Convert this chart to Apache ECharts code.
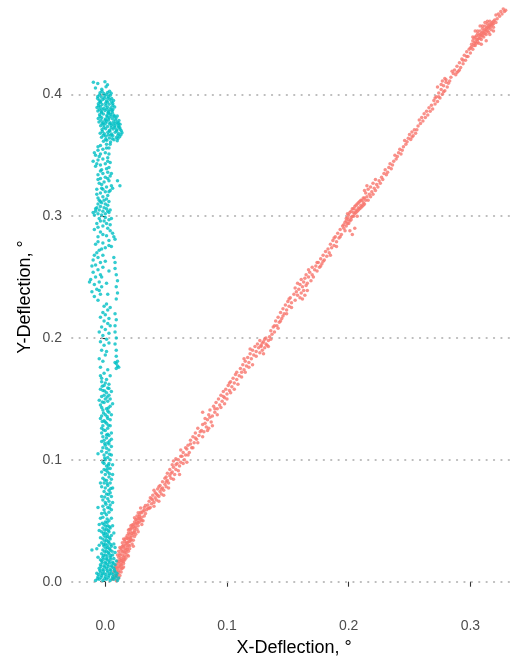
<!DOCTYPE html>
<html>
<head>
<meta charset="utf-8">
<script src="https://cdn.jsdelivr.net/npm/echarts@6/dist/echarts.min.js"></script>
<style>
  html, body { margin: 0; padding: 0; background: #ffffff; }
  #chart { width: 516px; height: 657px; }
</style>
</head>
<body>
<div id="chart"></div>
<script>
// Tick positions shown on each axis
const xTicks = [0, 0.1, 0.2, 0.3];
const yTicks = [0, 0.1, 0.2, 0.3, 0.4];

// Diagonal trace: [x deflection, y deflection] in degrees
const diagonalPoints = [
  [0.006,0.002],[0.009,0.001],[0.011,0.003],[0.008,0.005],[0.010,0.006],[0.012,0.005],[0.007,0.008],[0.009,0.009],[0.011,0.009],[0.013,0.008],
  [0.008,0.012],[0.010,0.011],[0.012,0.012],[0.014,0.011],[0.009,0.014],[0.011,0.015],[0.013,0.014],[0.015,0.015],[0.010,0.017],[0.012,0.018],[0.014,0.017],[0.016,0.018],[0.011,0.020],[0.013,0.019],[0.015,0.020],
  [0.010,0.022],[0.012,0.023],[0.014,0.022],[0.016,0.021],[0.018,0.022],[0.011,0.025],[0.013,0.026],[0.015,0.025],[0.017,0.024],[0.019,0.025],[0.012,0.028],[0.014,0.029],[0.016,0.027],[0.018,0.028],[0.020,0.027],[0.015,0.030],[0.017,0.030],[0.019,0.030],
  [0.014,0.032],[0.016,0.033],[0.018,0.032],[0.020,0.033],[0.022,0.031],[0.015,0.035],[0.017,0.036],[0.019,0.035],[0.021,0.036],[0.023,0.034],[0.018,0.038],[0.020,0.039],[0.022,0.038],[0.024,0.037],[0.019,0.040],[0.021,0.041],[0.023,0.040],[0.025,0.039],
  [0.020,0.043],[0.022,0.044],[0.024,0.042],[0.026,0.043],[0.021,0.046],[0.023,0.047],[0.025,0.045],[0.027,0.046],[0.024,0.049],[0.026,0.048],[0.028,0.049],[0.030,0.047],
  [0.025,0.051],[0.027,0.052],[0.029,0.051],[0.031,0.050],[0.026,0.054],[0.028,0.055],[0.030,0.053],[0.032,0.054],[0.029,0.057],[0.031,0.058],[0.033,0.056],[0.034,0.059],[0.032,0.061],
  [0.013,0.016],[0.017,0.026],[0.021,0.034],[0.024,0.044],[0.028,0.052],[0.019,0.021],[0.023,0.029],[0.027,0.041],[0.030,0.050],[0.015,0.012],
  [0.007,0.0035],[0.009,0.0045],[0.011,0.0075],[0.013,0.0105],[0.009,0.0115],[0.011,0.0125],[0.013,0.0135],[0.015,0.0165],[0.011,0.0165],[0.013,0.0175],[0.015,0.0185],[0.017,0.0195],[0.012,0.0215],[0.014,0.0245],
  [0.016,0.0235],[0.018,0.0265],[0.020,0.0295],[0.013,0.0275],[0.015,0.0285],[0.017,0.0315],[0.019,0.0325],[0.021,0.0345],[0.016,0.0345],[0.018,0.0355],[0.020,0.0365],[0.022,0.0395],[0.024,0.0405],[0.019,0.0425],
  [0.021,0.0435],[0.023,0.0455],[0.025,0.0475],[0.027,0.0485],[0.022,0.0465],[0.024,0.0525],[0.026,0.0505],[0.028,0.0535],[0.030,0.0565],[0.032,0.0585],[0.027,0.0565],[0.033,0.0625],[0.035,0.0605],[0.029,0.0605],
  [0.035,0.063],[0.037,0.061],[0.036,0.066],[0.038,0.064],[0.039,0.067],[0.037,0.069],[0.040,0.065],[0.041,0.069],[0.039,0.071],[0.042,0.067],[0.043,0.071],[0.041,0.073],[0.044,0.070],[0.045,0.074],[0.043,0.076],[0.046,0.072],
  [0.047,0.077],[0.045,0.079],[0.048,0.075],[0.049,0.080],[0.047,0.082],[0.050,0.078],[0.051,0.083],[0.049,0.085],[0.052,0.081],[0.053,0.087],[0.051,0.089],[0.054,0.085],[0.055,0.090],[0.053,0.092],[0.057,0.088],[0.056,0.094],
  [0.058,0.092],[0.055,0.096],[0.059,0.097],[0.061,0.095],[0.060,0.100],[0.062,0.098],[0.058,0.101],[0.063,0.103],[0.065,0.100],[0.064,0.106],[0.066,0.104],[0.062,0.108],[0.067,0.109],[0.069,0.106],[0.068,0.112],[0.071,0.110],
  [0.070,0.116],[0.073,0.114],[0.072,0.119],[0.075,0.117],[0.074,0.122],[0.077,0.120],[0.079,0.124],[0.076,0.126],[0.081,0.123],[0.083,0.127],[0.080,0.129],[0.085,0.126],[0.087,0.131],[0.084,0.133],
  [0.036,0.060],[0.038,0.068],[0.040,0.062],[0.042,0.072],[0.044,0.066],[0.046,0.076],[0.048,0.071],[0.050,0.082],[0.052,0.077],[0.054,0.089],[0.056,0.084],[0.058,0.096],[0.060,0.091],[0.062,0.103],[0.064,0.097],
  [0.066,0.110],[0.068,0.104],[0.070,0.113],[0.072,0.110],[0.074,0.118],[0.076,0.114],[0.078,0.123],[0.080,0.119],[0.082,0.130],[0.084,0.124],[0.086,0.135],[0.088,0.128],[0.090,0.142],[0.040,0.075],[0.044,0.078],
  [0.050,0.086],[0.056,0.099],[0.061,0.088],[0.067,0.098],
  [0.082,0.134],[0.085,0.137],[0.080,0.139],[0.088,0.136],[0.086,0.141],[0.090,0.139],[0.089,0.144],[0.092,0.142],[0.091,0.147],[0.094,0.145],[0.093,0.150],[0.096,0.148],[0.095,0.153],[0.098,0.151],[0.097,0.156],[0.100,0.154],
  [0.099,0.158],[0.102,0.157],[0.101,0.161],[0.104,0.160],[0.103,0.164],[0.106,0.163],[0.105,0.167],[0.108,0.166],[0.107,0.170],[0.110,0.169],[0.112,0.172],[0.111,0.175],[0.114,0.174],[0.113,0.178],[0.116,0.177],[0.115,0.181],
  [0.118,0.180],[0.117,0.184],[0.120,0.183],[0.119,0.187],[0.122,0.186],[0.121,0.190],[0.124,0.189],[0.123,0.193],[0.126,0.192],[0.125,0.195],[0.128,0.194],
  [0.092,0.137],[0.095,0.143],[0.098,0.146],[0.100,0.150],[0.103,0.155],[0.106,0.158],[0.109,0.162],[0.108,0.172],[0.112,0.168],[0.115,0.172],[0.118,0.176],[0.114,0.183],[0.121,0.178],[0.119,0.191],[0.124,0.185],
  [0.127,0.198],[0.102,0.163],[0.097,0.152],
  [0.127,0.188],[0.129,0.190],[0.130,0.187],[0.128,0.193],[0.131,0.192],[0.132,0.195],[0.130,0.197],[0.133,0.194],[0.134,0.198],[0.132,0.200],[0.135,0.201],[0.137,0.203],[0.136,0.206],[0.139,0.205],[0.138,0.209],[0.141,0.210],
  [0.140,0.214],[0.143,0.213],[0.142,0.217],[0.145,0.216],[0.144,0.221],[0.147,0.220],[0.146,0.224],[0.149,0.223],[0.148,0.227],[0.151,0.226],[0.150,0.230],[0.153,0.229],[0.152,0.233],
  [0.129,0.196],[0.131,0.199],[0.134,0.193],[0.136,0.199],[0.139,0.210],[0.142,0.208],[0.144,0.214],[0.146,0.218],[0.149,0.220],[0.151,0.232],[0.153,0.225],[0.156,0.231],[0.158,0.245],[0.160,0.233],[0.163,0.239],
  [0.165,0.243],[0.167,0.256],[0.170,0.258],[0.171,0.250],[0.174,0.262],[0.177,0.259],[0.179,0.263],[0.183,0.273],[0.185,0.268],[0.188,0.282],[0.190,0.275],[0.193,0.283],[0.195,0.292],[0.197,0.288],
  [0.155,0.236],[0.157,0.238],[0.156,0.241],[0.158,0.235],[0.159,0.240],[0.161,0.237],[0.160,0.244],[0.162,0.242],[0.163,0.246],[0.161,0.248],[0.164,0.249],[0.166,0.245],[0.165,0.252],[0.167,0.250],[0.168,0.254],[0.162,0.232],
  [0.164,0.235],[0.166,0.239],[0.169,0.247],[0.170,0.252],[0.172,0.256],[0.174,0.255],[0.173,0.259],[0.176,0.258],[0.175,0.262],[0.178,0.261],[0.177,0.265],[0.180,0.264],[0.179,0.268],[0.182,0.267],[0.181,0.271],[0.184,0.270],
  [0.186,0.274],[0.185,0.277],[0.188,0.276],[0.187,0.280],[0.190,0.279],[0.189,0.283],[0.192,0.282],[0.191,0.286],[0.194,0.285],[0.193,0.289],
  [0.196,0.290],[0.198,0.292],[0.197,0.295],[0.199,0.294],[0.200,0.297],[0.198,0.298],[0.201,0.296],[0.202,0.299],[0.200,0.301],[0.203,0.300],[0.204,0.303],[0.202,0.304],[0.205,0.302],[0.206,0.305],[0.204,0.306],[0.207,0.304],
  [0.208,0.307],[0.206,0.309],[0.209,0.306],[0.210,0.309],[0.208,0.311],[0.211,0.308],[0.212,0.311],[0.210,0.313],[0.213,0.310],[0.214,0.313],[0.201,0.288],[0.203,0.285],[0.205,0.290],[0.199,0.302],[0.207,0.300],
  [0.199,0.299],[0.201,0.303],[0.203,0.306],[0.205,0.308],[0.207,0.310],[0.209,0.312],[0.202,0.297],[0.204,0.300],[0.206,0.303],[0.208,0.305],[0.210,0.307],[0.212,0.309],[0.211,0.313],[0.213,0.315],[0.200,0.294],
  [0.198,0.296],[0.196,0.293],
  [0.212,0.315],[0.215,0.316],[0.214,0.319],[0.217,0.318],[0.213,0.321],[0.216,0.322],[0.219,0.320],[0.218,0.324],[0.221,0.323],[0.215,0.325],[0.220,0.327],[0.223,0.326],[0.222,0.330],[0.225,0.329],[0.227,0.332],[0.229,0.335],
  [0.231,0.334],[0.230,0.338],[0.233,0.340],[0.235,0.339],[0.234,0.343],[0.237,0.345],[0.239,0.347],[0.238,0.350],[0.241,0.352],[0.243,0.351],[0.242,0.355],[0.245,0.357],[0.247,0.359],[0.246,0.362],[0.249,0.364],[0.251,0.363],
  [0.250,0.367],[0.253,0.366],[0.252,0.369],[0.255,0.368],[0.254,0.371],
  [0.216,0.313],[0.218,0.316],[0.220,0.318],[0.222,0.321],[0.224,0.324],[0.226,0.327],[0.228,0.330],[0.232,0.336],[0.236,0.342],[0.240,0.349],[0.244,0.354],[0.248,0.361],[0.252,0.365],[0.256,0.371],[0.260,0.381],
  [0.264,0.386],[0.268,0.391],[0.271,0.397],[0.274,0.398],[0.276,0.408],[0.278,0.402],[0.280,0.412],[0.283,0.411],[0.285,0.419],[0.289,0.418],[0.291,0.420],[0.294,0.428],[0.297,0.431],[0.299,0.437],
  [0.257,0.374],[0.259,0.376],[0.258,0.379],[0.261,0.378],[0.263,0.381],[0.262,0.384],[0.265,0.383],[0.267,0.386],[0.266,0.389],[0.269,0.388],[0.271,0.392],[0.270,0.395],[0.273,0.394],[0.272,0.398],[0.275,0.397],[0.274,0.401],
  [0.277,0.400],[0.276,0.404],[0.279,0.403],[0.278,0.407],[0.281,0.406],[0.280,0.410],[0.282,0.409],[0.277,0.411],[0.279,0.413],[0.273,0.406],[0.284,0.414],[0.286,0.417],[0.288,0.416],[0.287,0.420],[0.290,0.419],[0.289,0.423],
  [0.292,0.422],[0.291,0.426],[0.294,0.425],[0.293,0.429],[0.296,0.428],[0.295,0.432],[0.298,0.431],[0.297,0.435],[0.300,0.434],
  [0.300,0.438],[0.302,0.437],[0.301,0.441],[0.303,0.440],[0.304,0.443],[0.302,0.444],[0.305,0.442],[0.306,0.445],[0.304,0.447],[0.307,0.446],[0.308,0.449],[0.306,0.450],[0.309,0.448],[0.310,0.451],[0.308,0.452],[0.311,0.450],
  [0.312,0.453],[0.310,0.454],[0.313,0.452],[0.314,0.455],[0.312,0.456],[0.315,0.454],[0.316,0.457],[0.314,0.458],[0.317,0.456],[0.318,0.459],[0.316,0.460],[0.319,0.458],[0.307,0.442],[0.309,0.445],[0.311,0.447],[0.313,0.449],
  [0.315,0.451],[0.317,0.453],[0.305,0.448],[0.303,0.446],[0.320,0.461],[0.322,0.462],[0.321,0.465],[0.324,0.464],[0.326,0.466],[0.328,0.468],[0.327,0.470],[0.329,0.469],
  [0.301,0.439],[0.303,0.442],[0.305,0.445],[0.307,0.448],[0.309,0.450],[0.311,0.452],[0.313,0.454],[0.315,0.456],[0.317,0.458],[0.319,0.460],[0.304,0.440],[0.306,0.443],[0.308,0.446],[0.310,0.448],[0.312,0.450],
  [0.314,0.452],[0.316,0.455],[0.318,0.457],[0.302,0.447],[0.310,0.456],[0.306,0.452],[0.314,0.460],[0.319,0.455],[0.321,0.459],[0.323,0.466],[0.325,0.468],
  [0.309,0.441],[0.313,0.444],[0.316,0.449],[0.319,0.452],[0.304,0.452],[0.308,0.456],[0.312,0.459]
];

// Vertical trace: [x deflection, y deflection] in degrees
const verticalPoints = [
  [-0.008,0.001],[-0.005,0.002],[-0.002,0.001],[0.001,0.002],[0.004,0.001],[0.007,0.002],[0.010,0.001],[-0.006,0.004],[-0.003,0.005],[0.000,0.004],[0.003,0.005],[0.006,0.004],[0.009,0.005],[0.011,0.003],
  [-0.007,0.007],[-0.004,0.008],[-0.001,0.007],[0.002,0.008],[0.005,0.007],[0.008,0.008],[-0.005,0.011],[-0.002,0.010],[0.001,0.011],[0.004,0.010],[0.007,0.011],[-0.004,0.014],[-0.001,0.013],[0.002,0.014],[0.005,0.013],[0.008,0.014],
  [-0.003,0.017],[0.000,0.016],[0.003,0.017],[0.006,0.016],[-0.002,0.020],[0.001,0.019],[0.004,0.020],[0.007,0.019],[-0.003,0.023],[0.000,0.022],[0.003,0.023],[0.006,0.022],[-0.002,0.026],[0.001,0.025],[0.004,0.026],
  [-0.001,0.029],[0.002,0.028],[0.005,0.029],[-0.003,0.032],[0.000,0.031],[0.003,0.032],[-0.002,0.035],[0.001,0.034],[0.004,0.035],[-0.001,0.038],[0.002,0.037],[0.005,0.038],[-0.003,0.041],[0.000,0.040],[0.003,0.041],
  [-0.002,0.044],[0.001,0.043],[0.004,0.044],[-0.001,0.047],[0.002,0.046],[0.000,0.049],[0.003,0.050],
  [-0.0065,0.0025],[-0.0035,0.0035],[-0.0005,0.0025],[0.0025,0.0035],[0.0055,0.0025],[0.0085,0.0035],[-0.0055,0.0060],[-0.0025,0.0065],[0.0005,0.0060],[0.0035,0.0065],[0.0065,0.0060],[0.0095,0.0070],
  [-0.0045,0.0095],[-0.0015,0.0090],[0.0015,0.0095],[0.0045,0.0090],[0.0075,0.0095],[-0.0035,0.0125],[-0.0005,0.0120],[0.0025,0.0125],[0.0055,0.0120],[-0.0025,0.0155],[0.0005,0.0150],[0.0035,0.0155],[0.0065,0.0150],
  [-0.0015,0.0185],[0.0015,0.0180],[0.0045,0.0185],[-0.0015,0.0215],[0.0015,0.0210],[0.0045,0.0215],[-0.0005,0.0245],[0.0025,0.0240],[0.0055,0.0250],[0.0005,0.0275],[0.0035,0.0270],[-0.0015,0.0305],[0.0015,0.0300],
  [0.0045,0.0305],[-0.0005,0.0335],[0.0025,0.0330],[0.0005,0.0365],[0.0035,0.0360],[-0.0015,0.0395],[0.0015,0.0390],[-0.0005,0.0425],[0.0025,0.0420],[0.0005,0.0455],[0.0035,0.0450],[-0.0025,0.0480],[0.0015,0.0485],
  [-0.005,0.030],[0.007,0.031],[-0.004,0.036],[0.007,0.040],[-0.005,0.042],[0.006,0.046],[-0.004,0.018],[0.008,0.024],[0.008,0.028],[-0.006,0.020],[0.009,0.017],[-0.005,0.047],
  [-0.011,0.026],[-0.007,0.027],[-0.006,0.061],[-0.004,0.052],[-0.004,0.081],[-0.006,0.105],
  [-0.002,0.053],[0.001,0.055],[0.003,0.057],[-0.001,0.059],[0.002,0.061],[0.004,0.063],[0.000,0.065],[-0.002,0.067],[0.002,0.068],[0.005,0.070],[0.001,0.072],[-0.001,0.074],[0.003,0.075],[0.000,0.077],[0.002,0.079],
  [0.004,0.081],[0.001,0.083],[-0.002,0.085],[0.003,0.086],[0.000,0.088],[0.002,0.090],[-0.001,0.092],[0.004,0.093],[0.001,0.095],[0.003,0.097],[-0.002,0.098],[0.000,0.100],
  [0.005,0.052],[-0.003,0.056],[0.005,0.059],[-0.002,0.062],[0.006,0.065],[0.003,0.066],[-0.003,0.070],[0.004,0.073],[0.006,0.077],[-0.003,0.078],[0.005,0.084],[-0.001,0.081],[0.006,0.088],[-0.003,0.090],[0.002,0.093],
  [0.006,0.096],[-0.001,0.097],[0.004,0.100],[0.005,0.104],[-0.003,0.107],[0.005,0.111],[0.003,0.113],[-0.003,0.115],[0.005,0.117],[-0.002,0.119],[0.005,0.122],[0.002,0.121],[-0.003,0.126],[0.004,0.128],[0.000,0.131],
  [0.004,0.133],[-0.004,0.134],[0.005,0.137],[0.002,0.140],[-0.003,0.143],[0.006,0.146],[-0.005,0.149],[0.004,0.150],[-0.001,0.153],[0.005,0.156],[-0.004,0.158],[0.003,0.162],[-0.003,0.164],[0.001,0.166],[0.004,0.169],
  [-0.004,0.169],
  [0.0015,0.0515],[-0.0005,0.0565],[0.0035,0.0605],[0.0005,0.0635],[-0.0005,0.0695],[0.0025,0.0715],[0.0045,0.0765],[0.0015,0.0805],[-0.0005,0.0835],[0.0035,0.0885],[0.0005,0.0915],[0.0025,0.0955],[-0.0005,0.1015],
  [0.0035,0.1045],[0.0010,0.1095],[-0.0005,0.1135],[0.0035,0.1155],[0.0010,0.1205],[-0.0015,0.1245],[0.0025,0.1285],[-0.0025,0.1315],[0.0015,0.1355],[-0.0015,0.1385],[0.0025,0.1425],[-0.0025,0.1475],[0.0015,0.1515],
  [-0.0005,0.1565],[0.0030,0.1585],[-0.0025,0.1605],
  [0.002,0.102],[-0.001,0.104],[0.001,0.106],[0.003,0.108],[-0.002,0.110],[0.000,0.112],[0.002,0.114],[-0.001,0.116],[0.001,0.118],[0.003,0.120],[-0.003,0.122],[0.000,0.124],[0.002,0.126],[-0.002,0.128],[0.001,0.130],
  [-0.001,0.132],[0.002,0.134],[-0.003,0.136],[0.000,0.137],[0.003,0.139],[-0.002,0.141],[0.001,0.142],[0.004,0.144],[-0.004,0.145],[-0.001,0.147],[0.002,0.148],[0.000,0.150],[-0.003,0.152],[0.003,0.153],[0.001,0.155],
  [-0.002,0.157],[0.002,0.159],[-0.001,0.161],[0.000,0.163],
  [-0.003,0.167],[-0.001,0.171],[-0.004,0.176],[-0.002,0.181],[0.000,0.186],[-0.003,0.190],[-0.001,0.194],[-0.004,0.197],[0.001,0.199],[-0.002,0.202],[0.003,0.204],[0.000,0.207],[-0.003,0.209],[0.002,0.212],[-0.001,0.214],
  [0.003,0.216],[0.000,0.219],[-0.002,0.221],[0.002,0.223],[-0.001,0.226],[0.001,0.228],
  [0.002,0.174],[-0.005,0.183],[0.001,0.189],[0.003,0.196],[-0.005,0.205],[0.004,0.210],[-0.004,0.217],[0.004,0.225],
  [0.009,0.175],[0.010,0.177],[0.011,0.176],[0.009,0.179],[0.010,0.181],[0.008,0.180],[0.009,0.185],[0.009,0.190],[0.008,0.195],[0.009,0.200],[0.008,0.205],[0.008,0.210],[0.009,0.215],[0.008,0.220],
  [0.009,0.232],[0.010,0.237],[0.009,0.242],[0.010,0.247],[0.009,0.252],[0.008,0.257],[0.008,0.262],[0.007,0.266],
  [-0.006,0.231],[-0.009,0.234],[-0.004,0.236],[-0.011,0.238],[-0.007,0.240],[-0.003,0.242],[-0.009,0.244],[-0.005,0.246],[-0.012,0.248],[-0.008,0.250],[-0.004,0.252],[-0.010,0.254],[-0.006,0.256],[-0.002,0.258],
  [-0.008,0.260],[-0.004,0.262],[-0.010,0.264],[-0.006,0.266],[-0.002,0.268],[-0.007,0.270],[0.001,0.245],[0.003,0.255],[0.000,0.263],[0.002,0.236],
  [-0.013,0.246],[-0.005,0.239],[-0.011,0.259],[-0.003,0.250],[-0.009,0.268],
  [-0.005,0.272],[0.000,0.274],[0.005,0.275],[-0.008,0.277],[-0.002,0.278],[0.003,0.280],[0.008,0.281],[-0.006,0.283],[0.001,0.284],[0.006,0.286],[-0.004,0.287],[-0.009,0.289],[0.002,0.290],[-0.002,0.292],[0.004,0.293],
  [-0.007,0.294],[-0.001,0.296],[0.003,0.297],[-0.005,0.298],[0.000,0.299],
  [-0.003,0.273],[0.003,0.276],[-0.006,0.279],[0.007,0.283],[-0.002,0.285],[0.004,0.288],[-0.006,0.291],[0.001,0.294],[-0.004,0.296],[0.005,0.298],
  [-0.009,0.301],[-0.006,0.302],[-0.003,0.301],[0.000,0.302],[0.003,0.303],[-0.008,0.304],[-0.005,0.305],[-0.002,0.304],[0.001,0.306],[0.004,0.305],[-0.007,0.307],[-0.004,0.308],[-0.001,0.307],[0.002,0.309],[-0.006,0.310],
  [-0.003,0.311],[0.000,0.310],[0.003,0.312],[-0.005,0.313],[-0.001,0.313],
  [-0.008,0.306],[0.002,0.304],[-0.010,0.303],[-0.004,0.312],[0.001,0.314],
  [-0.006,0.315],[-0.002,0.316],[0.002,0.317],[-0.004,0.319],[0.000,0.320],[0.004,0.321],[-0.007,0.322],[-0.003,0.323],[0.001,0.324],[0.005,0.325],[0.012,0.325],[0.010,0.329],[-0.005,0.327],[-0.001,0.328],[0.003,0.329],
  [-0.004,0.331],[0.000,0.332],[0.004,0.333],[-0.006,0.334],[-0.002,0.335],[0.002,0.336],[-0.003,0.338],[0.001,0.339],
  [-0.007,0.318],[0.003,0.320],[-0.002,0.322],[0.006,0.323],[-0.003,0.326],[0.002,0.331],[-0.006,0.330],[0.005,0.335],[-0.004,0.337],[0.003,0.340],
  [-0.008,0.341],[-0.004,0.342],[0.000,0.343],[0.004,0.344],[-0.010,0.345],[-0.006,0.346],[-0.002,0.347],[0.002,0.348],[-0.008,0.350],[-0.004,0.351],[0.000,0.352],[-0.006,0.354],[-0.002,0.355],[0.003,0.356],[-0.004,0.358],[0.001,0.359],
  [-0.007,0.343],[0.002,0.345],[-0.005,0.349],[0.003,0.351],[-0.009,0.352],[0.001,0.356],[-0.006,0.357],[0.004,0.359],
  [-0.0015,0.3615],[0.0012,0.3622],[0.0043,0.3608],[0.0071,0.3627],[0.0098,0.3619],
  [-0.0031,0.3648],[0.0004,0.3655],[0.0033,0.3642],[0.0062,0.3659],[0.0091,0.3646],[0.0118,0.3652],
  [-0.0042,0.3681],[-0.0008,0.3676],[0.0021,0.3689],[0.0052,0.3674],[0.0081,0.3688],[0.0109,0.3679],[0.0137,0.3685],
  [-0.0027,0.3712],[0.0003,0.3718],[0.0035,0.3705],[0.0064,0.3716],[0.0093,0.3709],[0.0122,0.3714],
  [-0.0038,0.3741],[-0.0011,0.3748],[0.0018,0.3736],[0.0049,0.3745],[0.0077,0.3739],[0.0106,0.3747],
  [-0.0052,0.3773],[-0.0019,0.3768],[0.0012,0.3779],[0.0041,0.3766],[0.0069,0.3775],[0.0098,0.3771],
  [-0.0058,0.3802],[-0.0029,0.3808],[0.0002,0.3797],[0.0031,0.3806],[0.0059,0.3799],[0.0088,0.3805],
  [-0.0047,0.3832],[-0.0016,0.3838],[0.0013,0.3827],[0.0042,0.3836],[0.0071,0.3829],
  [-0.0061,0.3863],[-0.0032,0.3857],[-0.0003,0.3868],[0.0027,0.3859],[0.0056,0.3866],
  [-0.0068,0.3891],[-0.0041,0.3897],[-0.0012,0.3886],[0.0018,0.3894],[0.0047,0.3889],[0.0077,0.3896],
  [-0.0057,0.3923],[-0.0026,0.3917],[0.0003,0.3926],[0.0032,0.3919],[0.0061,0.3924],
  [-0.0049,0.3951],[-0.0021,0.3957],[0.0009,0.3946],[0.0038,0.3955],[0.0068,0.3949],
  [-0.0062,0.3982],[-0.0033,0.3978],[-0.0004,0.3987],[0.0027,0.3979],
  [-0.0043,0.4012],[-0.0012,0.4007],[0.0019,0.4015],[0.0048,0.4009],
  [0.0025,0.3668],[0.0078,0.3728],[0.0035,0.3758],[-0.0002,0.3788],[0.0074,0.3818],[0.0022,0.3848],[-0.0027,0.3878],[0.0062,0.3876],[-0.0038,0.3938],[0.0021,0.3968],[0.0108,0.3762],[0.0118,0.3728],
  [0.0003,0.3632],[0.0057,0.3635],[0.0104,0.3637],[-0.0016,0.3665],[0.0047,0.3663],[0.0104,0.3665],[0.0128,0.3668],[-0.0024,0.3695],[0.0036,0.3697],[0.0094,0.3698],[0.0131,0.3701],[-0.0012,0.3728],
  [0.0049,0.3725],[0.0108,0.3731],[-0.0026,0.3759],[0.0003,0.3762],[0.0062,0.3757],[0.0083,0.3758],[0.0121,0.3755],[-0.0036,0.3788],[0.0027,0.3791],[0.0084,0.3789],[0.0112,0.3786],[-0.0043,0.3818],
  [0.0016,0.3816],[0.0046,0.3820],[0.0098,0.3822],[-0.0032,0.3848],[0.0028,0.3845],[0.0058,0.3849],[-0.0048,0.3876],[0.0012,0.3878],[0.0038,0.3874],[-0.0055,0.3906],[0.0004,0.3909],[0.0062,0.3908],
  [-0.0042,0.3935],[0.0018,0.3937],[0.0052,0.3936],[-0.0063,0.3965],[-0.0008,0.3968],[0.0052,0.3966],[-0.0048,0.3995],[0.0012,0.3998],[0.0041,0.3993],[-0.0027,0.4025],[0.0035,0.4026],
  [-0.0098,0.4098],[-0.0062,0.4088],[-0.0003,0.4104],[0.0018,0.4079],[-0.0081,0.4052],[-0.0029,0.4041],[0.0006,0.4062]
];

const FONT = '"Liberation Sans", Arial, Helvetica, sans-serif';
const chart = echarts.init(document.getElementById('chart'), null, { renderer: 'canvas' });

const tickStyle = { show: true, length: 5, lineStyle: { color: '#333333', width: 1.1 } };
const labelStyle = { color: '#4d4d4d', fontSize: 14, fontFamily: FONT };

chart.setOption({
  animation: false,
  backgroundColor: '#ffffff',
  grid: { left: 72, top: 0, right: 0, bottom: 49, containLabel: false, outerBoundsMode: 'none' },
  xAxis: {
    type: 'value',
    min: -0.02737,
    max: 0.3375,
    name: 'X-Deflection, °',
    nameLocation: 'middle',
    nameGap: 31,
    nameTextStyle: { color: '#000000', fontSize: 18, fontFamily: FONT },
    axisLine: { show: false },
    axisTick: Object.assign({ customValues: xTicks }, tickStyle),
    axisLabel: Object.assign({ customValues: xTicks, margin: 11, formatter: v => v.toFixed(1) }, labelStyle),
    splitLine: { show: false }
  },
  yAxis: {
    type: 'value',
    min: -0.02158,
    max: 0.4774,
    name: 'Y-Deflection, °',
    nameLocation: 'middle',
    nameMoveOverlap: false,
    nameGap: 38,
    nameTextStyle: { color: '#000000', fontSize: 18, fontFamily: FONT, padding: [0, 0, 0, 14] },
    axisLine: { show: false },
    axisTick: Object.assign({ customValues: yTicks }, tickStyle),
    axisLabel: Object.assign({ customValues: yTicks, margin: 10, formatter: v => v.toFixed(1) }, labelStyle),
    splitLine: { show: false }
  },
  series: [
    {
      name: 'grid',
      type: 'scatter',
      data: [],
      silent: true,
      markLine: {
        silent: true,
        symbol: ['none', 'none'],
        label: { show: false },
        z: 1,
        lineStyle: { color: '#bdbdbd', width: 1.8, type: [0.5, 6.9], cap: 'round' },
        data: yTicks.map(v => ({ yAxis: v }))
      }
    },
    {
      name: 'diagonal',
      type: 'scatter',
      z: 3,
      symbol: 'circle',
      symbolSize: 3.5,
      itemStyle: { color: '#F8766D' },
      data: diagonalPoints
    },
    {
      name: 'vertical',
      type: 'scatter',
      z: 4,
      symbol: 'circle',
      symbolSize: 3.5,
      itemStyle: { color: '#00BFC4' },
      data: verticalPoints
    }
  ]
});
</script>
</body>
</html>
